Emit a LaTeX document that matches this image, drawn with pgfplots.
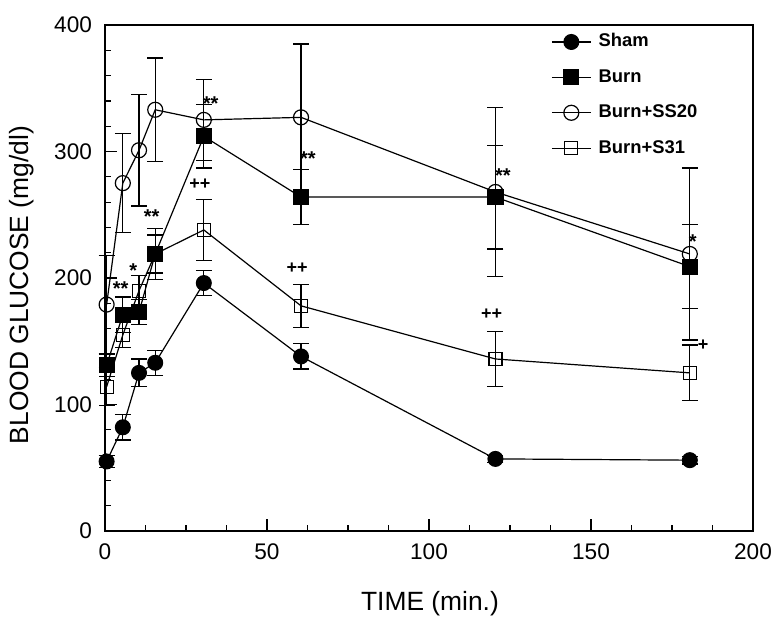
\documentclass[border=0pt]{standalone}
\usepackage{fontspec}
\setmainfont{Liberation Sans}
\usepackage{pgfplots}
\usepackage{pgfplotstable}
\pgfplotsset{compat=1.18}
\pgfplotstableread{
t m e
0.5 55 5
5.5 82 10
10.5 125 11
15.5 133 10
30.5 196 10
60.5 138 10
120.5 57 3
180.5 56 3
}\sham
\pgfplotstableread{
t m e
0.5 131 9
5.5 171 14
10.5 173 10
15.5 219 20
30.5 312 25
60.5 264 22
120.5 264 41
180.5 209 33
}\burn
\pgfplotstableread{
t m e
0.5 179 39
5.5 275 39
10.5 301 44
15.5 333 41
30.5 325 32
60.5 327 58
120.5 268 67
180.5 219 68
}\sstwenty
\pgfplotstableread{
t m e
0.5 114 15
5.5 155 10
10.5 190 12
15.5 219 15
30.5 238 24
60.5 178 17
120.5 136 22
180.5 125 22
}\sthirty
\begin{document}
\begin{tikzpicture}
\useasboundingbox (-52.5pt,-43.5pt) rectangle (335pt,265.5pt);
\begin{axis}[
  at={(0,0)}, anchor=south west,
  scale only axis, width=324pt, height=253pt,
  xmin=0, xmax=200, ymin=0, ymax=400,
  xtick={0,50,...,200}, ytick={0,100,...,400},
  minor x tick num=3, minor y tick num=4,
  tick align=inside, xtick pos=bottom, ytick pos=left,
  major tick length=6pt, minor tick length=3pt,
  tick style={black, line width=0.6pt},
  axis line style={line width=0.8pt},
  /pgf/number format/assume math mode=true,
  ticklabel style={font=\fontsize{11.3}{12}\selectfont},
  xticklabel style={yshift=-3pt},
  yticklabel style={xshift=-3pt},
  xlabel={TIME (min.)}, ylabel={BLOOD GLUCOSE (mg/dl)},
  label style={font=\fontsize{13.2}{15}\selectfont},
  xlabel style={at={(axis description cs:0.5015,-0.144)}, anchor=center},
  ylabel style={at={(axis description cs:-0.128,0.486)}, anchor=center},
  clip=false,
  legend style={draw=none, fill=none, at={(axis description cs:0.688,0.989)}, anchor=north west,
    inner sep=0pt, row sep=6.7pt, font=\fontsize{9.2}{10}\selectfont\bfseries,
    nodes={inner sep=1pt, text height=7pt, text depth=2pt},
    /tikz/every odd column/.style={column sep=2.6pt}},
  legend cell align=left,
  legend image code/.code={\draw[mark repeat=2,mark phase=2,#1] plot coordinates {(0pt,0pt) (9.75pt,0pt) (19.5pt,0pt)};},
]
\addplot[black, line width=0.6pt, mark=*, mark size=3.7pt, mark options={fill=black, solid},
  error bars/.cd, y dir=both, y explicit,
  error bar style={line width=0.6pt, black},
  error mark options={rotate=90, mark size=4pt, black, line width=0.6pt}]
  table[x=t, y=m, y error=e] {\sham};
\addlegendentry{Sham}
\addplot[black, line width=0.6pt, mark=square*, mark size=3.75pt, mark options={fill=black, solid},
  error bars/.cd, y dir=both, y explicit,
  error bar style={line width=0.6pt, black},
  error mark options={rotate=90, mark size=4pt, black, line width=0.6pt}]
  table[x=t, y=m, y error=e] {\burn};
\addlegendentry{Burn}
\addplot[black, line width=0.6pt, mark=o, mark size=3.75pt, mark options={solid},
  error bars/.cd, y dir=both, y explicit,
  error bar style={line width=0.6pt, black},
  error mark options={rotate=90, mark size=4pt, black, line width=0.6pt}]
  table[x=t, y=m, y error=e] {\sstwenty};
\addlegendentry{Burn+SS20}
\addplot[black, line width=0.6pt, mark=square, mark size=3.25pt, mark options={solid},
  error bars/.cd, y dir=both, y explicit,
  error bar style={line width=0.6pt, black},
  error mark options={rotate=90, mark size=4pt, black, line width=0.6pt}]
  table[x=t, y=m, y error=e] {\sthirty};
\addlegendentry{Burn+S31}
\begin{scope}[every node/.style={font=\fontsize{10}{10}\selectfont\bfseries, inner sep=0pt}]
\node at (axis cs:4.8,191.5) {**};
\node at (axis cs:8.7,205.5) {*};
\node at (axis cs:14.4,248.5) {**};
\node at (axis cs:32.6,338) {**};
\node at (axis cs:62.6,294) {**};
\node at (axis cs:122.8,281) {**};
\node at (axis cs:181.4,228.4) {*};
\end{scope}
\begin{scope}[every node/.style={font=\fontsize{9}{9}\selectfont\bfseries, inner sep=0pt}]
\node at (axis cs:29.3,274) {++};
\node at (axis cs:59.3,208) {++};
\node at (axis cs:119.3,171.5) {++};
\node at (axis cs:184.6,146.5) {+};
\end{scope}
\end{axis}
\end{tikzpicture}
\end{document}
